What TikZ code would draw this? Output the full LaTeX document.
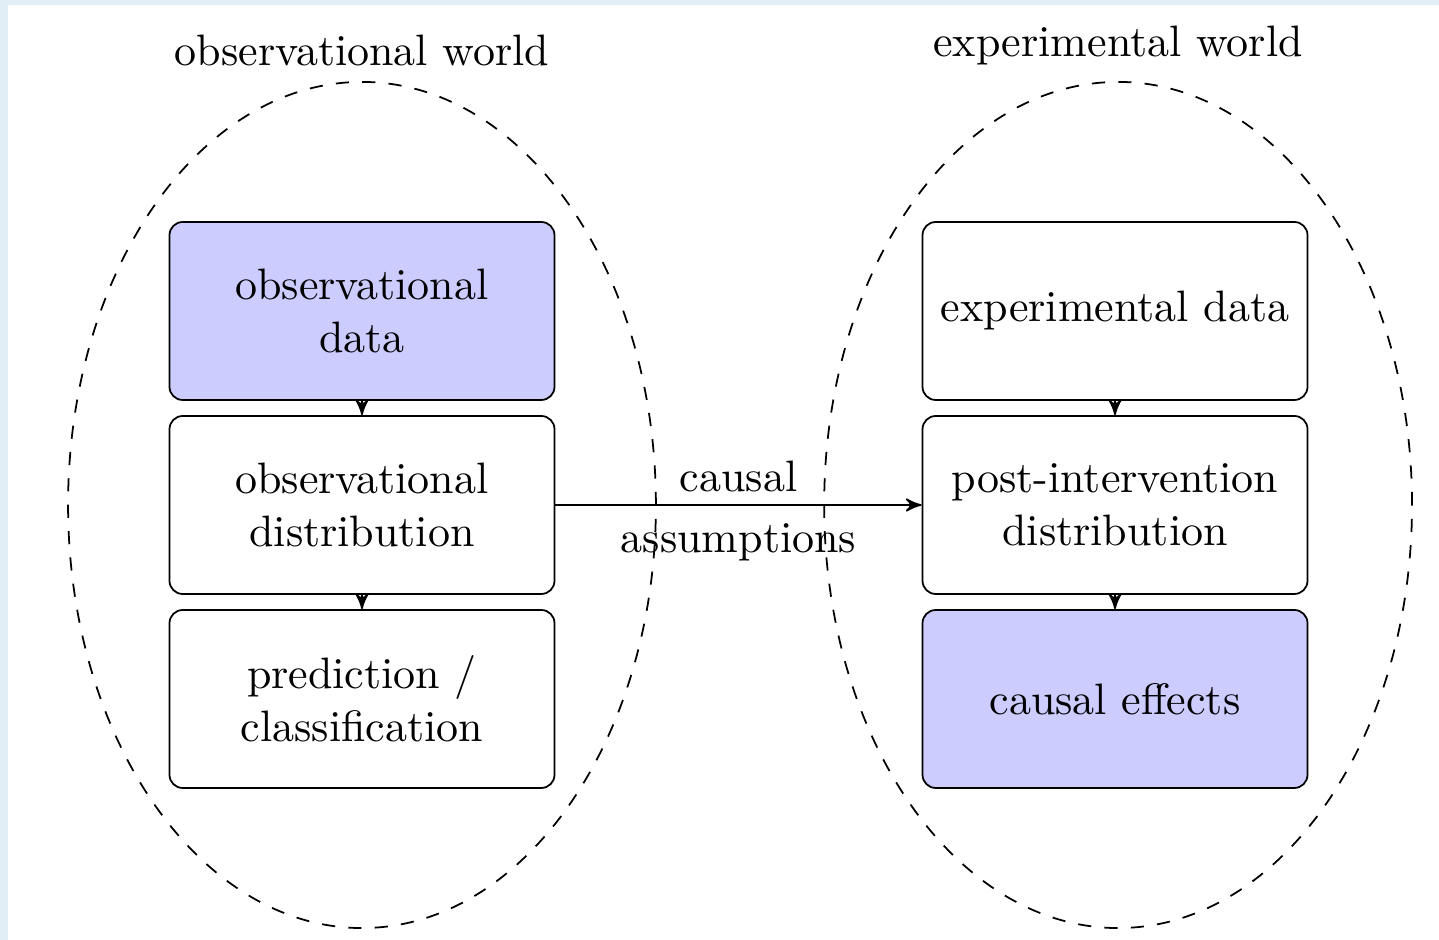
\documentclass[tikz,border=0pt]{standalone}
\usepackage{tikz}
\usetikzlibrary{arrows}
\usetikzlibrary{shapes.geometric}
\usetikzlibrary{positioning}
\definecolor{framebg}{RGB}{226,238,245}

\begin{document}
\begin{tikzpicture}[>=stealth']
		\tikzstyle{box}=[rectangle,draw,rounded corners=3pt,align=center,
			minimum width=87.5pt,minimum height=40.45pt];
		\tikzstyle{goal}=[box,fill=blue!20];
		\tikzstyle{world}=[ellipse,draw,dashed,inner sep=0pt,
			minimum width=133.6pt,minimum height=192.3pt];
		% frame round the page
		\fill[framebg](-82.27pt,-142.95pt)rectangle(244.77pt,70.68pt);
		\fill[white](-80.45pt,-142.95pt)rectangle(244.77pt,69.54pt);
		\useasboundingbox(-82.27pt,-142.95pt)rectangle(244.77pt,70.68pt);

		\node[goal](obsdata){observational\\data};
		\node[box,below of=obsdata,node distance=44.09pt](obsdist){observational\\distribution}edge[<-](obsdata);
		\node[box,below of=obsdist,node distance=44.09pt](pred){prediction /\\classification}edge[<-](obsdist);

		\node[box,right of=obsdata,node distance=171.14pt](expdata){experimental data};
		\node[box,below of=expdata,node distance=44.09pt](post){post-intervention\\distribution}edge[<-](expdata);
		\node[goal,below of=post,node distance=44.09pt](effects){causal effects}edge[<-](post);

		\node[world,label=above:observational world](obsworld) at (obsdist){};
		\node[world,label=above:experimental world,xshift=0.7pt](expworld) at (post){};

		\draw[->](obsdist)--node[align=center,yshift=-1.4pt]{causal\\[2pt]assumptions}(post);
	\end{tikzpicture}
\end{document}
